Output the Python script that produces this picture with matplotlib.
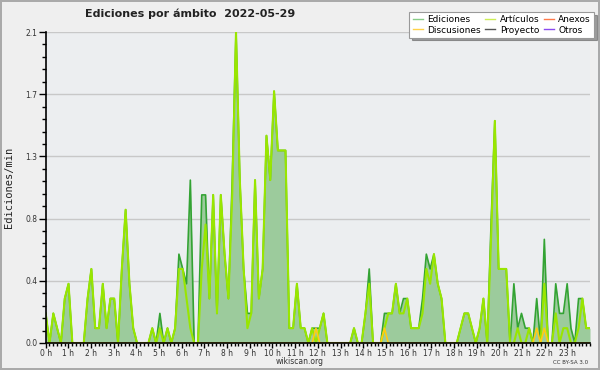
import numpy as np
import matplotlib
matplotlib.use("Agg")
import matplotlib.pyplot as plt
from matplotlib.lines import Line2D
from matplotlib.ticker import FixedLocator, MultipleLocator

# edits per minute, one value per 10 minutes (6 per hour)
ediciones = [
    0.2, 0, 0.2, 0.1, 0, 0.3,
    0.4, 0, 0, 0, 0, 0.3,
    0.5, 0.1, 0.1, 0.4, 0.1, 0.3,
    0.3, 0, 0.5, 0.9, 0.4, 0.1,
    0, 0, 0, 0, 0.1, 0,
    0.2, 0, 0.1, 0, 0.1, 0.6,
    0.5, 0.4, 1.1, 0, 0, 1.0,
    1.0, 0.3, 1.0, 0.2, 1.0, 0.6,
    0.3, 1.1, 2.1, 1.1, 0.5, 0.2,
    0.2, 1.1, 0.3, 0.5, 1.4, 1.1,
    1.7, 1.3, 1.3, 1.3, 0.1, 0.1,
    0.4, 0.1, 0.1, 0, 0.1, 0.1,
    0.1, 0.2, 0, 0, 0, 0,
    0, 0, 0, 0.1, 0, 0,
    0.2, 0.5, 0, 0, 0, 0.2,
    0.2, 0.2, 0.4, 0.2, 0.3, 0.3,
    0.1, 0.1, 0.1, 0.3, 0.6, 0.5,
    0.6, 0.4, 0.3, 0, 0, 0,
    0, 0.1, 0.2, 0.2, 0.1, 0,
    0.1, 0.3, 0, 0.8, 1.5, 0.5,
    0.5, 0.5, 0, 0.4, 0.1, 0.2,
    0.1, 0.1, 0, 0.3, 0, 0.7,
    0, 0, 0.4, 0.2, 0.2, 0.4,
    0.1, 0, 0.3, 0.3, 0.1, 0.1,
]
articulos = [
    0.2, 0, 0.2, 0.1, 0, 0.3,
    0.4, 0, 0, 0, 0, 0.3,
    0.5, 0.1, 0.1, 0.4, 0.1, 0.3,
    0.3, 0, 0.5, 0.9, 0.4, 0.1,
    0, 0, 0, 0, 0.1, 0,
    0.1, 0, 0.1, 0, 0.1, 0.5,
    0.5, 0.3, 0.1, 0, 0, 0.5,
    0.8, 0.3, 1.0, 0.2, 1.0, 0.6,
    0.3, 1.0, 2.1, 1.1, 0.5, 0.1,
    0.2, 1.1, 0.3, 0.5, 1.4, 1.1,
    1.7, 1.3, 1.3, 1.3, 0.1, 0.1,
    0.4, 0.1, 0.1, 0, 0.1, 0,
    0.1, 0.2, 0, 0, 0, 0,
    0, 0, 0, 0.1, 0, 0,
    0.2, 0.4, 0, 0, 0, 0.1,
    0.2, 0.2, 0.4, 0.2, 0.2, 0.3,
    0.1, 0.1, 0.1, 0.2, 0.5, 0.4,
    0.6, 0.4, 0.3, 0, 0, 0,
    0, 0.1, 0.2, 0.2, 0.1, 0,
    0.1, 0.3, 0, 0.7, 1.5, 0.5,
    0.5, 0.5, 0, 0, 0.1, 0,
    0, 0.1, 0, 0, 0, 0.4,
    0, 0, 0.2, 0, 0.1, 0.1,
    0, 0, 0.1, 0.3, 0.1, 0.1,
]
discusiones = [0.0] * 144
for i in (71, 89, 129, 131):
    discusiones[i] = 0.1

hour_labels = [f"{h} h" for h in range(24)]
y_ticks = [0, 0.42, 0.84, 1.26, 1.68, 2.1]
y_tick_labels = ["0.0", "0.4", "0.8", "1.3", "1.7", "2.1"]

legend_items = [
    ("Ediciones", "#88cc88"),
    ("Discusiones", "#ffd24a"),
    ("Artículos", "#ccee55"),
    ("Proyecto", "#555555"),
    ("Anexos", "#ff7a4a"),
    ("Otros", "#8a4af0"),
]

W, H = 600, 370
fig = plt.figure(figsize=(W / 100, H / 100), dpi=100)
fig.patch.set_facecolor("#efefef")
ax = fig.add_axes([45.7 / W, 1 - 343 / H, (590 - 45.7) / W, (343 - 32) / H])
ax.set_facecolor("#eceef0")

x = np.linspace(0, 24, len(ediciones))
ax.fill_between(x, ediciones, 0, color="#9ccb9c", lw=0, zorder=2)
ax.plot(x, ediciones, color="#33a333", lw=1.2, zorder=3)
ax.plot(x, articulos, color="#99e600", lw=1.5, zorder=4)
ax.plot(x, discusiones, color="#ffcc11", lw=1.2, zorder=5)

ax.set_xlim(0, 24)
ax.set_ylim(0, 2.1)
ax.set_axisbelow(True)
ax.yaxis.grid(True, color="#c8c8c8", lw=1)

ax.xaxis.set_major_locator(FixedLocator(range(24)))
ax.set_xticklabels(hour_labels)
ax.xaxis.set_minor_locator(MultipleLocator(1 / 6))
ax.yaxis.set_major_locator(FixedLocator(y_ticks))
ax.set_yticklabels(y_tick_labels)
ax.yaxis.set_minor_locator(MultipleLocator(0.084))

ax.tick_params(axis="both", which="major", labelsize=5.5, labelcolor="#333333",
               color="black", width=1)
ax.tick_params(axis="y", which="major", length=5, pad=1)
ax.tick_params(axis="y", which="minor", length=3, width=1)
ax.tick_params(axis="x", which="major", length=3.5, pad=0.5)
ax.tick_params(axis="x", which="minor", length=2.5, width=1)

for side in ("top", "right"):
    ax.spines[side].set_visible(False)
for side in ("left", "bottom"):
    ax.spines[side].set_color("black")
    ax.spines[side].set_linewidth(1.2)
    ax.spines[side].set_zorder(6)

ax.set_ylabel("Ediciones/min", family="DejaVu Sans Mono", fontsize=7.5,
              color="#222222", labelpad=8)

fig.text(85 / W, 1 - 14 / H, "Ediciones por ámbito  2022-05-29",
         fontsize=8, fontweight="bold", color="#222222", va="center", ha="left")
fig.text(300 / W, 1 - 361 / H, "wikiscan.org", fontsize=5.5, color="#333333",
         ha="center", va="center")
fig.text(588 / W, 1 - 362 / H, "CC BY-SA 3.0", fontsize=4, color="#333333",
         ha="right", va="center")

handles = [Line2D([], [], color=c, lw=1) for _, c in legend_items]
leg = fig.legend(handles, [n for n, _ in legend_items], ncol=3,
                 loc="upper right", bbox_to_anchor=(594 / W, 1 - 12 / H),
                 fontsize=6.5, frameon=True, fancybox=False, shadow=True,
                 edgecolor="#999999", framealpha=1, borderaxespad=0,
                 handlelength=1.1, handletextpad=0.5, columnspacing=0.5,
                 labelspacing=0.15, borderpad=0.35)
leg.get_frame().set_linewidth(0.8)

fig.patch.set_edgecolor("#aaaaaa")
fig.patch.set_linewidth(1.5)
fig.savefig("out.png", dpi=100, facecolor=fig.get_facecolor(),
            edgecolor=fig.patch.get_edgecolor())
